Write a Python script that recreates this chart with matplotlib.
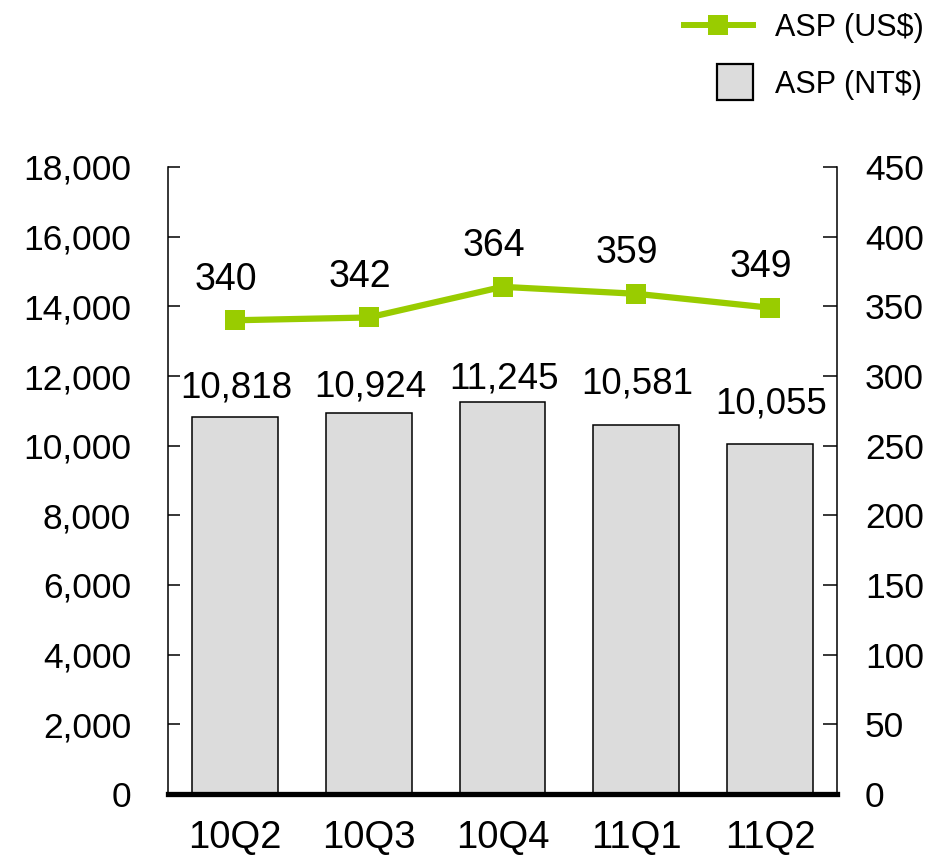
import matplotlib
matplotlib.use("Agg")
import matplotlib.pyplot as plt
from matplotlib.lines import Line2D
from matplotlib.patches import Patch, Rectangle
from matplotlib.legend_handler import HandlerPatch
from matplotlib.ticker import FuncFormatter, MultipleLocator

plt.rcParams['font.family'] = ['Liberation Sans', 'DejaVu Sans']

# Quarterly average selling price
quarters = ["10Q2", "10Q3", "10Q4", "11Q1", "11Q2"]
asp_ntd = [10818, 10924, 11245, 10581, 10055]
asp_usd = [340, 342, 364, 359, 349]

# vertical gap (points) between each bar top and its value label
bar_label_gap = [14, 12, 10, 23, 22]

BAR_COLOR = "#DCDCDC"
LINE_COLOR = "#99CC00"

fig = plt.figure(figsize=(9.34, 8.59), dpi=100)
ax = fig.add_axes([168 / 934, 65 / 859, 669 / 934, 627 / 859])
ax2 = ax.twinx()

x = list(range(len(quarters)))
ax.bar(x, asp_ntd, width=0.64, color=BAR_COLOR, edgecolor="black", linewidth=1.1, zorder=2)
for xi, v, g in zip(x, asp_ntd, bar_label_gap):
    ax.annotate(f"{v:,}", (xi, v), xytext=(1, g), textcoords="offset points",
                ha="center", va="baseline", fontsize=26.5)

ax.set_xlim(-0.5, len(quarters) - 0.5)
ax.set_ylim(0, 18000)
ax.yaxis.set_major_locator(MultipleLocator(2000))
ax.yaxis.set_major_formatter(FuncFormatter(lambda v, p: f"{int(v):,}"))
ax.set_xticks(x)
ax.set_xticklabels(quarters)

ax2.plot(x, asp_usd, color=LINE_COLOR, lw=4.5, marker="s", markersize=14.4,
         markeredgewidth=0, zorder=3)
for xi, v in zip(x, asp_usd):
    ax2.annotate(f"{v}", (xi, v), xytext=(-6.5, 22), textcoords="offset points",
                 ha="center", va="baseline", fontsize=27)
ax2.set_ylim(0, 450)
ax2.yaxis.set_major_locator(MultipleLocator(50))

# spines
for a in (ax, ax2):
    a.spines["top"].set_visible(False)
ax.spines["right"].set_visible(False)
ax2.spines["left"].set_visible(False)
ax2.spines["bottom"].set_visible(False)
ax.spines["left"].set_linewidth(1.1)
ax2.spines["right"].set_linewidth(1.1)
ax.spines["bottom"].set_linewidth(3.8)
ax.spines["bottom"].set_zorder(5)

ax.tick_params(axis="y", direction="in", length=8.5, width=1.1, pad=26.5, labelsize=25.5)
ax2.tick_params(axis="y", direction="in", length=10, width=1.1, pad=20, labelsize=25.5)
ax.tick_params(axis="x", length=0, pad=19, labelsize=27.5)


def square_patch(legend, orig_handle, xdescent, ydescent, width, height, fontsize):
    s = 26
    return Rectangle((-xdescent + width - s, -ydescent + height / 2 - s / 2), s, s)


handles = [
    Line2D([], [], color=LINE_COLOR, lw=4.3, marker="s", markersize=14.4, markeredgewidth=0),
    Patch(facecolor=BAR_COLOR, edgecolor="black", linewidth=1.6),
]
fig.legend(handles, ["ASP (US$)", "ASP (NT$)"], loc="upper left",
           bbox_to_anchor=(684 / 934, 1 - 13 / 859), frameon=False, fontsize=22,
           handlelength=2.25, handletextpad=0.72, labelspacing=0.88, borderpad=0,
           borderaxespad=0, handler_map={Patch: HandlerPatch(patch_func=square_patch)})

fig.savefig("out.png", dpi=100)
